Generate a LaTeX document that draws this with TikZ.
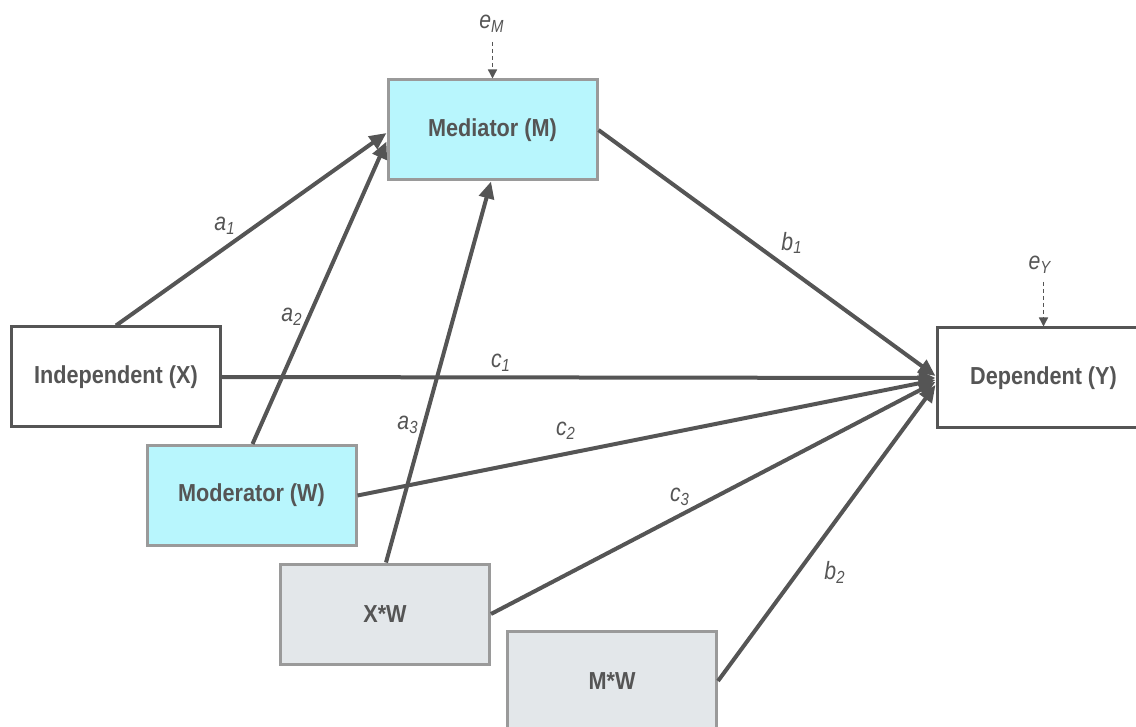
\documentclass[tikz,border=0pt]{standalone}
\usepackage{fontspec}
\usetikzlibrary{arrows.meta,calc}
\newfontfamily\boxfont[FakeStretch=0.88]{Liberation Sans}
\newfontfamily\labfont[FakeStretch=0.85]{Liberation Sans}
\definecolor{ink}{HTML}{555555}
\definecolor{edge}{HTML}{9A9A9A}
\definecolor{cyanfill}{HTML}{B8F6FD}
\definecolor{greyfill}{HTML}{E3E7EA}
\tikzset{
  box/.style={rectangle, line width=1.5pt, minimum width=104.5pt, minimum height=50pt,
    inner sep=0pt, text=ink, font=\boxfont\fontsize{12.3}{14}\selectfont\bfseries},
  plainbox/.style={box, draw=ink, fill=white},
  cyanbox/.style={box, draw=edge, fill=cyanfill},
  greybox/.style={box, draw=edge, fill=greyfill},
  path/.style={draw=ink, line width=2pt, -{Triangle[length=8.5pt,width=7.5pt]}},
  errpath/.style={draw=ink, line width=0.7pt, dashed, dash pattern=on 2pt off 1.5pt,
    -{Triangle[length=4.5pt,width=4.5pt]}},
  lab/.style={text=ink, inner sep=0pt, font=\labfont\fontsize{12.5}{14}\selectfont\itshape},
}
\newcommand{\sub}[1]{\textsubscript{#1}}
\begin{document}
\begin{tikzpicture}[x=0.5pt,y=-0.5pt]
  \useasboundingbox (0,0) rectangle (1136,727);

  % boxes
  \node[cyanbox]  (med) at (492.5,130) {Mediator (M)};
  \node[plainbox] (ind) at (116,377) {Independent (X)};
  \node[plainbox, minimum width=106.5pt] (dep) at (1043.5,378) {Dependent (Y)};
  \node[cyanbox]  (mod) at (251.5,495.5) {Moderator (W)};
  \node[greybox]  (xw)  at (385,614) {X*W};
  \node[greybox]  (mw)  at (612,681) {M*W};

  % error terms
  \node[lab] (em) at (492,24) {e\sub{M}};
  \node[lab] (ey) at (1040,265) {e\sub{Y}};
  \coordinate (emtail) at (492.5,42);
  \coordinate (eytail) at (1043.5,282);
  \draw[errpath] (emtail) -- (med.north);
  \draw[errpath] (eytail) -- (dep.north);

  % paths into the mediator
  \draw[path] (ind.north) -- ($(med.west)+(0,3)$);
  \draw[path] ($(mod.north)+(1,0)$) -- ($(med.south west)+(0,-40)$);
  \draw[path] ($(xw.north)+(1,0)$) -- ($(med.south)+(-1.5,0)$);

  % paths into the dependent variable
  \draw[path] (med.east) -- ($(dep.west)+(0,-2)$);
  \draw[path] (ind.east) -- (dep.west);
  \draw[path] (mod.east) -- ($(dep.west)+(0,2)$);
  \draw[path] (xw.east) -- ($(dep.west)+(0,4)$);
  \draw[path] (mw.east) -- ($(dep.west)+(0,7)$);

  % coefficient labels
  \node[lab] (la1) at (225,226) {a\sub{1}};
  \node[lab] (la2) at (292,317) {a\sub{2}};
  \node[lab] (la3) at (408,425) {a\sub{3}};
  \node[lab] (lb1) at (792,243) {b\sub{1}};
  \node[lab] (lc1) at (501,363) {c\sub{1}};
  \node[lab] (lc2) at (566,431) {c\sub{2}};
  \node[lab] (lc3) at (680,497) {c\sub{3}};
  \node[lab] (lb2) at (835,572) {b\sub{2}};
\end{tikzpicture}
\end{document}
